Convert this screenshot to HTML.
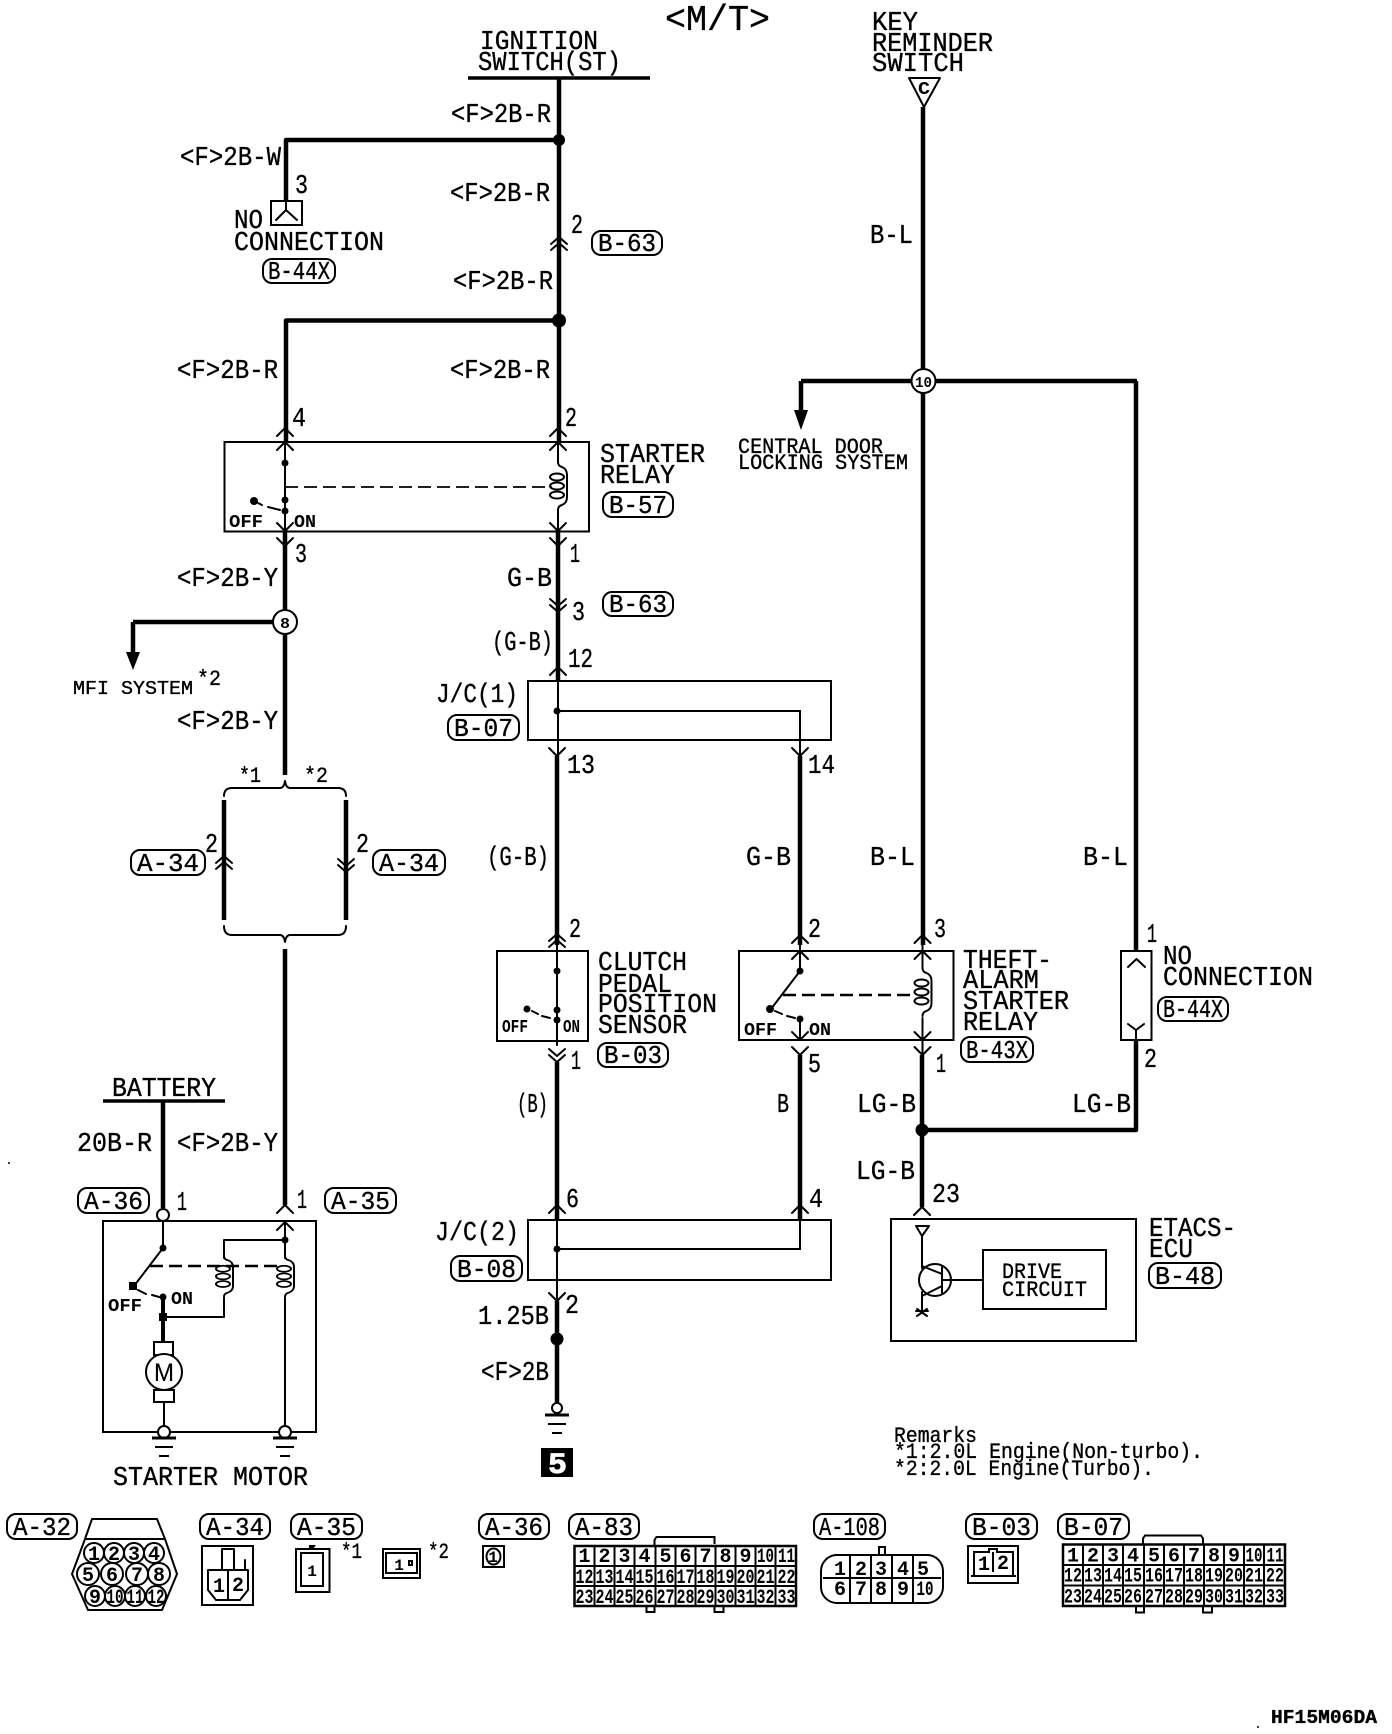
<!DOCTYPE html>
<html><head><meta charset="utf-8"><title>Starter circuit M/T</title>
<style>
html,body{margin:0;padding:0;background:#fff}
svg{display:block}
text{font-family:"Liberation Mono",monospace;fill:#000;stroke:#000;stroke-width:.35;font-size:27px}
.b{font-size:26px}.o{font-size:18px;font-weight:bold;stroke-width:0}.n{font-size:20px;font-weight:bold;text-anchor:middle;stroke-width:0}.r{font-size:22px}
.c{fill:none;stroke:#000;stroke-width:2}
.l{fill:none;stroke:#000;stroke-width:2;stroke-linecap:round;stroke-linejoin:round}
.w{fill:none;stroke:#000;stroke-width:4.5;stroke-linejoin:round}
.h{fill:none;stroke:#000;stroke-width:5.5;stroke-linejoin:round}
.d{fill:none;stroke:#000;stroke-width:1.7;stroke-dasharray:13 6}
.f{fill:#000}
.e{fill:#fff;stroke:#000;stroke-width:2}
</style></head><body>
<svg width="1392" height="1734" viewBox="0 0 1392 1734">
<defs>
<path id="u" class="l" d="M-8 8L0 0L8 8"/>
<path id="v" class="l" d="M-8 -8L0 0L8 -8"/>
<path id="uu" class="l" stroke-width="3" d="M-8 7L0 0L8 7M-8 13L0 6L8 13"/>
<path id="vv" class="l" d="M-8 -7L0 0L8 -7M-8 -13L0 -6L8 -13"/>
<g id="k"><path class="l" d="M0 0q0 4 4 5q5 2 5 8l0 22q0 6 -5 8q-4 1 -4 5"/><ellipse class="c" cx="-1" cy="15" rx="7" ry="3.5"/><ellipse class="c" cx="-1" cy="24" rx="7" ry="3.5"/><ellipse class="c" cx="-1" cy="33" rx="7" ry="3.5"/></g>
<g id="gnd"><path fill="none" stroke="#000" stroke-width="3" d="M-12 0H12"/><path fill="none" stroke="#000" stroke-width="2" d="M-9 9H9M-5 18H5"/></g>
</defs>

<!-- headers -->
<text x="665" y="30" font-size="36" style="font-size:36px" textLength="105" lengthAdjust="spacingAndGlyphs">&lt;M/T&gt;</text>
<text x="480" y="49" textLength="118" lengthAdjust="spacingAndGlyphs">IGNITION</text>
<text x="478" y="70" textLength="143" lengthAdjust="spacingAndGlyphs">SWITCH(ST)</text>
<path fill="none" stroke="#000" stroke-width="3.5" d="M468 78H650M103 1101H225"/>
<text x="872" y="30" textLength="46" lengthAdjust="spacingAndGlyphs">KEY</text>
<text x="872" y="51" textLength="121" lengthAdjust="spacingAndGlyphs">REMINDER</text>
<text x="872" y="71" textLength="92" lengthAdjust="spacingAndGlyphs">SWITCH</text>
<path class="l" d="M909 78H940L924 107Z"/>
<text x="918" y="94" class="o" textLength="12" lengthAdjust="spacingAndGlyphs">C</text>

<!-- main thick wires -->
<path class="w" d="M559 78V441M286 202V140H559M286 441V320.5H559M285 531V775M285 949V1205M558 531V680M557 756V945M557 1062V1219M557 1301V1403M800 756V945M800 1055V1219M923 107V945M922 1055V1207M801 381H1137M801 381V415M1136 381V950M1136 1040V1130H922M133 622H285M133 622V655M224 800V920M346 800V920M163 1101V1208"/>
<circle class="f" cx="559" cy="140" r="6"/>
<circle class="f" cx="559" cy="320.5" r="7"/>
<path class="f" d="M126 652H140L133 670ZM794 410H808L801 430Z"/>
<circle class="f" cx="922" cy="1130" r="6.5"/>
<circle class="f" cx="557" cy="1339" r="6.5"/>
<circle class="e" cx="285" cy="622" r="12"/>
<circle class="e" cx="923.5" cy="381" r="12"/>
<text x="280" y="628" class="o" style="font-size:15px" textLength="10" lengthAdjust="spacingAndGlyphs">8</text>
<text x="915" y="387" class="o" style="font-size:15px" textLength="17" lengthAdjust="spacingAndGlyphs">10</text>

<!-- wire labels -->
<text x="451" y="122" textLength="100" lengthAdjust="spacingAndGlyphs">&lt;F&gt;2B-R</text>
<text x="180" y="165" textLength="101" lengthAdjust="spacingAndGlyphs">&lt;F&gt;2B-W</text>
<text x="450" y="201" textLength="100" lengthAdjust="spacingAndGlyphs">&lt;F&gt;2B-R</text>
<text x="453" y="289" textLength="100" lengthAdjust="spacingAndGlyphs">&lt;F&gt;2B-R</text>
<text x="177" y="378" textLength="101" lengthAdjust="spacingAndGlyphs">&lt;F&gt;2B-R</text>
<text x="450" y="378" textLength="100" lengthAdjust="spacingAndGlyphs">&lt;F&gt;2B-R</text>
<text x="177" y="586" textLength="101" lengthAdjust="spacingAndGlyphs">&lt;F&gt;2B-Y</text>
<text x="177" y="729" textLength="101" lengthAdjust="spacingAndGlyphs">&lt;F&gt;2B-Y</text>
<text x="177" y="1151" textLength="101" lengthAdjust="spacingAndGlyphs">&lt;F&gt;2B-Y</text>
<text x="77" y="1151" textLength="75" lengthAdjust="spacingAndGlyphs">20B-R</text>
<text x="507" y="586" textLength="45" lengthAdjust="spacingAndGlyphs">G-B</text>
<text x="492" y="650" textLength="61" lengthAdjust="spacingAndGlyphs">(G-B)</text>
<text x="487" y="865" textLength="62" lengthAdjust="spacingAndGlyphs">(G-B)</text>
<text x="746" y="865" textLength="45" lengthAdjust="spacingAndGlyphs">G-B</text>
<text x="870" y="865" textLength="45" lengthAdjust="spacingAndGlyphs">B-L</text>
<text x="1083" y="865" textLength="45" lengthAdjust="spacingAndGlyphs">B-L</text>
<text x="870" y="243" textLength="43" lengthAdjust="spacingAndGlyphs">B-L</text>
<text x="517" y="1112" textLength="31" lengthAdjust="spacingAndGlyphs">(B)</text>
<text x="777" y="1112" textLength="12" lengthAdjust="spacingAndGlyphs">B</text>
<text x="857" y="1112" textLength="59" lengthAdjust="spacingAndGlyphs">LG-B</text>
<text x="1072" y="1112" textLength="59" lengthAdjust="spacingAndGlyphs">LG-B</text>
<text x="856" y="1179" textLength="59" lengthAdjust="spacingAndGlyphs">LG-B</text>
<text x="478" y="1324" textLength="71" lengthAdjust="spacingAndGlyphs">1.25B</text>
<text x="481" y="1380" textLength="68" lengthAdjust="spacingAndGlyphs">&lt;F&gt;2B</text>

<!-- pin numbers -->
<text x="295" y="193" textLength="13" lengthAdjust="spacingAndGlyphs">3</text>
<text x="571" y="233" textLength="12" lengthAdjust="spacingAndGlyphs">2</text>
<text x="292" y="426" textLength="14" lengthAdjust="spacingAndGlyphs">4</text>
<text x="565" y="426" textLength="12" lengthAdjust="spacingAndGlyphs">2</text>
<text x="295" y="562" textLength="12" lengthAdjust="spacingAndGlyphs">3</text>
<text x="570" y="562" textLength="10" lengthAdjust="spacingAndGlyphs">1</text>
<text x="572" y="620" textLength="13" lengthAdjust="spacingAndGlyphs">3</text>
<text x="568" y="667" textLength="25" lengthAdjust="spacingAndGlyphs">12</text>
<text x="567" y="773" textLength="28" lengthAdjust="spacingAndGlyphs">13</text>
<text x="808" y="773" textLength="27" lengthAdjust="spacingAndGlyphs">14</text>
<text x="569" y="937" textLength="12" lengthAdjust="spacingAndGlyphs">2</text>
<text x="808" y="937" textLength="13" lengthAdjust="spacingAndGlyphs">2</text>
<text x="934" y="937" textLength="12" lengthAdjust="spacingAndGlyphs">3</text>
<text x="1147" y="942" textLength="10" lengthAdjust="spacingAndGlyphs">1</text>
<text x="571" y="1069" textLength="10" lengthAdjust="spacingAndGlyphs">1</text>
<text x="808" y="1072" textLength="13" lengthAdjust="spacingAndGlyphs">5</text>
<text x="936" y="1072" textLength="10" lengthAdjust="spacingAndGlyphs">1</text>
<text x="1144" y="1067" textLength="13" lengthAdjust="spacingAndGlyphs">2</text>
<text x="932" y="1202" textLength="28" lengthAdjust="spacingAndGlyphs">23</text>
<text x="566" y="1207" textLength="13" lengthAdjust="spacingAndGlyphs">6</text>
<text x="809" y="1207" textLength="14" lengthAdjust="spacingAndGlyphs">4</text>
<text x="565" y="1313" textLength="14" lengthAdjust="spacingAndGlyphs">2</text>
<text x="177" y="1210" textLength="10" lengthAdjust="spacingAndGlyphs">1</text>
<text x="297" y="1208" textLength="10" lengthAdjust="spacingAndGlyphs">1</text>
<text x="205" y="852" textLength="13" lengthAdjust="spacingAndGlyphs">2</text>
<text x="356" y="852" textLength="13" lengthAdjust="spacingAndGlyphs">2</text>
<text x="239" y="782" class="r" textLength="22" lengthAdjust="spacingAndGlyphs">*1</text>
<text x="304" y="782" class="r" textLength="24" lengthAdjust="spacingAndGlyphs">*2</text>

<!-- no connection top -->
<rect class="c" x="271" y="201" width="31" height="24"/>
<path class="l" d="M276 220L286 210L297 220M286 201V210"/>
<text x="234" y="228" textLength="29" lengthAdjust="spacingAndGlyphs">NO</text>
<text x="234" y="250" textLength="150" lengthAdjust="spacingAndGlyphs">CONNECTION</text>

<!-- capsules -->
<rect class="c" x="263" y="259" width="72" height="24" rx="9"/><text class="b" x="268" y="279" textLength="62" lengthAdjust="spacingAndGlyphs">B-44X</text>
<rect class="c" x="592" y="231" width="70" height="24" rx="9"/><text class="b" x="598" y="251" textLength="58" lengthAdjust="spacingAndGlyphs">B-63</text>
<rect class="c" x="603" y="492" width="70" height="25" rx="9"/><text class="b" x="609" y="513" textLength="58" lengthAdjust="spacingAndGlyphs">B-57</text>
<rect class="c" x="603" y="592" width="70" height="24" rx="9"/><text class="b" x="609" y="612" textLength="58" lengthAdjust="spacingAndGlyphs">B-63</text>
<rect class="c" x="448" y="715" width="71" height="25" rx="9"/><text class="b" x="454" y="736" textLength="59" lengthAdjust="spacingAndGlyphs">B-07</text>
<rect class="c" x="131" y="850" width="74" height="25" rx="9"/><text class="b" x="137" y="871" textLength="62" lengthAdjust="spacingAndGlyphs">A-34</text>
<rect class="c" x="373" y="850" width="72" height="25" rx="9"/><text class="b" x="379" y="871" textLength="60" lengthAdjust="spacingAndGlyphs">A-34</text>
<rect class="c" x="598" y="1043" width="70" height="24" rx="9"/><text class="b" x="604" y="1063" textLength="58" lengthAdjust="spacingAndGlyphs">B-03</text>
<rect class="c" x="961" y="1037" width="72" height="25" rx="9"/><text class="b" x="966" y="1058" textLength="62" lengthAdjust="spacingAndGlyphs">B-43X</text>
<rect class="c" x="1158" y="997" width="70" height="24" rx="9"/><text class="b" x="1163" y="1017" textLength="60" lengthAdjust="spacingAndGlyphs">B-44X</text>
<rect class="c" x="78" y="1188" width="71" height="25" rx="9"/><text class="b" x="84" y="1209" textLength="59" lengthAdjust="spacingAndGlyphs">A-36</text>
<rect class="c" x="325" y="1188" width="71" height="25" rx="9"/><text class="b" x="331" y="1209" textLength="59" lengthAdjust="spacingAndGlyphs">A-35</text>
<rect class="c" x="451" y="1256" width="71" height="25" rx="9"/><text class="b" x="457" y="1277" textLength="59" lengthAdjust="spacingAndGlyphs">B-08</text>
<rect class="c" x="1149" y="1263" width="72" height="25" rx="9"/><text class="b" x="1155" y="1284" textLength="60" lengthAdjust="spacingAndGlyphs">B-48</text>

<!-- starter relay -->
<rect class="c" x="224.5" y="442" width="364.5" height="89.5"/>
<path class="l" d="M285 442V531M558 442V462M558 510V531"/>
<use href="#u" x="285" y="428"/><use href="#u" x="285" y="442"/><use href="#v" x="285" y="531"/><use href="#v" x="285" y="546"/>
<use href="#u" x="558" y="428"/><use href="#u" x="558" y="442"/><use href="#v" x="558" y="531"/><use href="#v" x="558" y="546"/>
<circle class="f" cx="285" cy="463" r="3.5"/><circle class="f" cx="285" cy="500" r="3.5"/><circle class="f" cx="285" cy="511" r="3.5"/><circle class="f" cx="254" cy="501" r="4"/>
<path class="l" d="M258 503L262 505M268 507L280 510"/>
<path class="d" d="M285 487H552"/>
<use href="#k" x="558" y="462"/>
<text class="o" x="229" y="527" textLength="34" lengthAdjust="spacingAndGlyphs">OFF</text>
<text class="o" x="294" y="527" textLength="22" lengthAdjust="spacingAndGlyphs">ON</text>
<text x="600" y="462" textLength="105" lengthAdjust="spacingAndGlyphs">STARTER</text>
<text x="600" y="483" textLength="75" lengthAdjust="spacingAndGlyphs">RELAY</text>

<!-- vv chevrons on harness -->
<use href="#uu" x="559" y="237"/>
<use href="#vv" x="558" y="612"/>
<use href="#uu" x="224" y="856"/>
<use href="#vv" x="346" y="872"/>

<!-- central door / mfi -->
<text class="r" x="738" y="453" textLength="145" lengthAdjust="spacingAndGlyphs">CENTRAL DOOR</text>
<text class="r" x="738" y="469" textLength="170" lengthAdjust="spacingAndGlyphs">LOCKING SYSTEM</text>
<text style="font-size:19px" x="73" y="694" textLength="120" lengthAdjust="spacingAndGlyphs">MFI SYSTEM</text>
<text class="r" x="197" y="685" textLength="24" lengthAdjust="spacingAndGlyphs">*2</text>

<!-- bracket -->
<path class="l" d="M224 796Q224 788 232 788H280Q284 788 285 781Q286 788 290 788H338Q346 788 346 796"/>
<path class="l" d="M224 926Q224 935 232 935H280Q284 935 285 942Q286 935 290 935H338Q346 935 346 926"/>

<!-- J/C1 -->
<rect class="c" x="528" y="681" width="303" height="59"/>
<path class="l" d="M558 667V756"/>
<path class="c" d="M557 711H800V756"/>
<circle class="f" cx="557" cy="711" r="3.5"/>
<use href="#u" x="558" y="667"/><use href="#v" x="557" y="756"/><use href="#v" x="800" y="756"/>
<text x="436" y="702" textLength="82" lengthAdjust="spacingAndGlyphs">J/C(1)</text>

<!-- clutch -->
<rect class="c" x="497" y="951" width="91" height="90" stroke-width="2.5"/>
<path class="l" d="M557 945V1045"/>
<use href="#uu" x="557" y="934"/><use href="#vv" x="557" y="1062"/>
<circle class="f" cx="557" cy="971" r="3.5"/><circle class="f" cx="557" cy="1010" r="3.5"/><circle class="f" cx="557" cy="1020" r="3.5"/><circle class="f" cx="527" cy="1009" r="3.5"/>
<path class="l" d="M532 1011L538 1014M542 1016L550 1018"/>
<text class="o" x="502" y="1032" textLength="26" lengthAdjust="spacingAndGlyphs">OFF</text>
<text class="o" x="563" y="1032" textLength="17" lengthAdjust="spacingAndGlyphs">ON</text>
<text x="598" y="970" textLength="89" lengthAdjust="spacingAndGlyphs">CLUTCH</text>
<text x="598" y="992" textLength="74" lengthAdjust="spacingAndGlyphs">PEDAL</text>
<text x="598" y="1012" textLength="119" lengthAdjust="spacingAndGlyphs">POSITION</text>
<text x="598" y="1033" textLength="89" lengthAdjust="spacingAndGlyphs">SENSOR</text>

<!-- theft relay -->
<rect class="c" x="739" y="951" width="214.5" height="89"/>
<path class="l" d="M800 945V971M771 1009L800 971M800 1019V1040M922.5 945V968M922.5 1018V1055"/>
<use href="#u" x="800" y="935"/><use href="#u" x="800" y="951"/><use href="#v" x="800" y="1040"/><use href="#v" x="800" y="1055"/>
<use href="#u" x="922.5" y="935"/><use href="#u" x="922.5" y="951"/><use href="#v" x="922.5" y="1040"/><use href="#v" x="922.5" y="1055"/>
<circle class="f" cx="800" cy="971" r="3.5"/><circle class="f" cx="770" cy="1009" r="4"/><circle class="f" cx="800" cy="1019" r="3.5"/>
<path class="l" d="M775 1011L782 1014M787 1016L795 1018"/>
<path class="d" d="M783 995H916" style="stroke-width:2.5"/>
<use href="#k" x="922.5" y="968"/>
<text class="o" x="744" y="1035" textLength="33" lengthAdjust="spacingAndGlyphs">OFF</text>
<text class="o" x="809" y="1035" textLength="22" lengthAdjust="spacingAndGlyphs">ON</text>
<text x="963" y="968" textLength="89" lengthAdjust="spacingAndGlyphs">THEFT-</text>
<text x="963" y="988" textLength="76" lengthAdjust="spacingAndGlyphs">ALARM</text>
<text x="963" y="1009" textLength="106" lengthAdjust="spacingAndGlyphs">STARTER</text>
<text x="963" y="1030" textLength="75" lengthAdjust="spacingAndGlyphs">RELAY</text>

<!-- no connection right -->
<rect class="c" x="1121" y="951" width="30.5" height="89"/>
<path class="l" d="M1128 967L1136.5 959L1145 967M1128 1024L1136 1030L1144 1024M1136 1030V1040"/>
<text x="1163" y="964" textLength="29" lengthAdjust="spacingAndGlyphs">NO</text>
<text x="1163" y="985" textLength="150" lengthAdjust="spacingAndGlyphs">CONNECTION</text>

<!-- J/C2 -->
<rect class="c" x="528" y="1220" width="303" height="60"/>
<path class="l" d="M557 1205V1301"/>
<path class="c" d="M557 1249H800V1205"/>
<circle class="f" cx="557" cy="1249" r="3.5"/>
<use href="#u" x="557" y="1205"/><use href="#u" x="800" y="1205"/><use href="#v" x="557" y="1301"/>
<text x="435" y="1240" textLength="84" lengthAdjust="spacingAndGlyphs">J/C(2)</text>
<circle class="e" cx="557" cy="1408" r="5"/>
<use href="#gnd" x="557" y="1415"/>
<rect class="f" x="541" y="1448" width="32" height="29"/>
<text x="548" y="1473" style="font-size:30px;fill:#fff;stroke:#fff;stroke-width:.8;font-weight:bold" textLength="19" lengthAdjust="spacingAndGlyphs">5</text>

<!-- ETACS -->
<use href="#u" x="922" y="1207"/>
<rect class="c" x="891" y="1219" width="245" height="122"/>
<path class="l" d="M916 1226H929L922 1236ZM922 1236V1268M922 1292V1312M922 1266L942 1274M922 1296L942 1286M942 1266V1294M942 1280H983"/>
<circle class="c" cx="935" cy="1280" r="16"/>
<path class="l" d="M916 1311H928M917 1316L927 1309M927 1316L917 1309"/>
<rect class="c" x="983" y="1250" width="123" height="59"/>
<text class="r" x="1002" y="1278" textLength="60" lengthAdjust="spacingAndGlyphs">DRIVE</text>
<text class="r" x="1002" y="1296" textLength="85" lengthAdjust="spacingAndGlyphs">CIRCUIT</text>
<text x="1149" y="1236" textLength="87" lengthAdjust="spacingAndGlyphs">ETACS-</text>
<text x="1149" y="1257" textLength="44" lengthAdjust="spacingAndGlyphs">ECU</text>

<!-- battery / starter motor -->
<text x="112" y="1096" textLength="104" lengthAdjust="spacingAndGlyphs">BATTERY</text>
<circle class="e" cx="163" cy="1215" r="6"/>
<rect class="c" x="103" y="1221" width="213" height="211"/>
<use href="#u" x="285" y="1205"/><use href="#u" x="285" y="1222"/>
<path class="l" d="M163 1221V1248L134 1286M285 1222V1258M285 1298V1428M224 1258V1240H285M224 1298V1317H163M224 1258h0M164 1402V1428"/>
<path fill="none" stroke="#000" stroke-width="4" d="M163 1297V1342"/>
<circle class="f" cx="163" cy="1248" r="3.5"/><rect class="f" x="129" y="1282" width="8" height="8"/><circle class="f" cx="163" cy="1297" r="3.5"/><rect class="f" x="159" y="1313" width="8" height="8"/><circle class="f" cx="285" cy="1240" r="3.5"/>
<path class="l" d="M138 1290L146 1294M152 1295L159 1297"/>
<path class="d" d="M150 1266H278" style="stroke-width:2.5"/>
<use href="#k" transform="translate(224,1256) scale(1,.85)"/>
<use href="#k" transform="translate(285,1256) scale(1,.85)"/>
<text class="o" x="108" y="1311" textLength="34" lengthAdjust="spacingAndGlyphs">OFF</text>
<text class="o" x="171" y="1304" textLength="22" lengthAdjust="spacingAndGlyphs">ON</text>
<rect class="c" x="154" y="1342" width="19" height="13"/><rect class="c" x="154" y="1390" width="20" height="12"/>
<circle class="e" cx="164" cy="1372" r="18"/>
<text x="154" y="1381" style="stroke-width:.1;font-family:'Liberation Sans',sans-serif;font-size:25px" textLength="20" lengthAdjust="spacingAndGlyphs">M</text>
<circle class="e" cx="164" cy="1432" r="6"/><circle class="e" cx="285" cy="1432" r="6"/>
<use href="#gnd" x="164" y="1438"/><use href="#gnd" x="285" y="1438"/>
<text x="113" y="1485" textLength="195" lengthAdjust="spacingAndGlyphs">STARTER MOTOR</text>

<!-- remarks -->
<text class="r" x="894" y="1442" textLength="83" lengthAdjust="spacingAndGlyphs">Remarks</text>
<text class="r" x="894" y="1458" textLength="309" lengthAdjust="spacingAndGlyphs">*1:2.0L Engine(Non-turbo).</text>
<text class="r" x="894" y="1475" textLength="260" lengthAdjust="spacingAndGlyphs">*2:2.0L Engine(Turbo).</text>

<!-- bottom capsules -->
<rect class="c" x="7" y="1514" width="70" height="25" rx="9"/><text class="b" x="13" y="1535" textLength="58" lengthAdjust="spacingAndGlyphs">A-32</text>
<rect class="c" x="200" y="1514" width="70" height="25" rx="9"/><text class="b" x="206" y="1535" textLength="58" lengthAdjust="spacingAndGlyphs">A-34</text>
<rect class="c" x="291" y="1514" width="71" height="25" rx="9"/><text class="b" x="297" y="1535" textLength="59" lengthAdjust="spacingAndGlyphs">A-35</text>
<rect class="c" x="479" y="1514" width="70" height="25" rx="9"/><text class="b" x="485" y="1535" textLength="58" lengthAdjust="spacingAndGlyphs">A-36</text>
<rect class="c" x="569" y="1514" width="70" height="25" rx="9"/><text class="b" x="575" y="1535" textLength="58" lengthAdjust="spacingAndGlyphs">A-83</text>
<rect class="c" x="814" y="1514" width="71" height="25" rx="9"/><text class="b" x="819" y="1535" textLength="61" lengthAdjust="spacingAndGlyphs">A-108</text>
<rect class="c" x="966" y="1514" width="71" height="25" rx="9"/><text class="b" x="972" y="1535" textLength="59" lengthAdjust="spacingAndGlyphs">B-03</text>
<rect class="c" x="1058" y="1514" width="71" height="25" rx="9"/><text class="b" x="1064" y="1535" textLength="59" lengthAdjust="spacingAndGlyphs">B-07</text>

<!-- A-32 -->
<path class="l" d="M85 1539L92 1519H157L165 1539"/>
<path class="l" d="M85 1539H165L177 1574L162 1610H88L72 1574Z" stroke-width="2.5"/>
<g class="l">
<circle cx="94" cy="1553" r="10"/><circle cx="114" cy="1553" r="10"/><circle cx="134" cy="1553" r="10"/><circle cx="154" cy="1553" r="10"/>
<circle cx="88" cy="1574" r="11"/><circle cx="112" cy="1574" r="11"/><circle cx="137" cy="1574" r="11"/><circle cx="159" cy="1574" r="11"/>
<circle cx="95" cy="1596" r="10"/><circle cx="115" cy="1596" r="10"/><circle cx="135" cy="1596" r="10"/><circle cx="156" cy="1596" r="10"/>
</g>
<g class="n">
<text class="n" x="94" y="1560">1</text><text class="n" x="114" y="1560">2</text><text class="n" x="134" y="1560">3</text><text class="n" x="154" y="1560">4</text>
<text class="n" x="88" y="1581">5</text><text class="n" x="112" y="1581">6</text><text class="n" x="137" y="1581">7</text><text class="n" x="159" y="1581">8</text>
<text class="n" x="95" y="1603">9</text><text class="n" x="115" y="1603" textLength="17" lengthAdjust="spacingAndGlyphs">10</text><text class="n" x="135" y="1603" textLength="17" lengthAdjust="spacingAndGlyphs">11</text><text class="n" x="156" y="1603" textLength="17" lengthAdjust="spacingAndGlyphs">12</text>
</g>

<!-- A-34 -->
<rect class="c" x="202" y="1546" width="51" height="59"/>
<path class="l" d="M222 1570V1549H234V1570M208 1570H248V1590L240 1600H216L208 1590ZM228 1570V1600M245 1570V1560"/>
<text class="n" x="219" y="1592">1</text><text class="n" x="238" y="1591">2</text>
<!-- A-35 -->
<rect class="c" x="296" y="1549" width="33.5" height="43"/><rect class="c" x="301" y="1553" width="22" height="33"/>
<path class="f" d="M309 1545H316L313 1549H309Z"/><path class="l" d="M301 1586h22" stroke-width="3"/>
<text class="n" style="font-size:16px" x="312" y="1576">1</text>
<text class="r" x="341" y="1558" textLength="21" lengthAdjust="spacingAndGlyphs">*1</text>
<rect class="c" x="383" y="1549" width="37" height="29"/><rect class="c" x="386" y="1553" width="31" height="20"/>
<text class="n" style="font-size:16px" x="399" y="1570">1</text><rect class="c" x="409" y="1561" width="3" height="4"/>
<text class="r" x="428" y="1558" textLength="21" lengthAdjust="spacingAndGlyphs">*2</text>
<!-- A-36 -->
<rect class="c" x="483" y="1546" width="21" height="21"/><ellipse class="c" cx="493.5" cy="1556.5" rx="7" ry="8"/>
<text class="n" style="font-size:16px" x="493" y="1562">1</text>

<!-- A-83 grid -->
<g transform="translate(574.5,1546)">
<rect width="221.5" height="60" fill="none" stroke="#000" stroke-width="2.5"/>
<path class="c" d="M0 20H221.5M0 40H221.5M20 0V60M40 0V60M60 0V60M81 0V60M101 0V60M121 0V60M141 0V60M161 0V60M181 0V60M201 0V60"/>
<path class="c" d="M80 0V-6L82 -9H140V-2"/><path class="c" d="M72 60V66H80V60M140 60V66H149V60"/>
<text class="n" x="10" y="16">1</text><text class="n" x="30" y="16">2</text><text class="n" x="50" y="16">3</text><text class="n" x="70" y="16">4</text><text class="n" x="91" y="16">5</text><text class="n" x="111" y="16">6</text><text class="n" x="131" y="16">7</text><text class="n" x="151" y="16">8</text><text class="n" x="171" y="16">9</text><text class="n" x="191" y="16" textLength="17" lengthAdjust="spacingAndGlyphs">10</text><text class="n" x="212" y="16" textLength="17" lengthAdjust="spacingAndGlyphs">11</text>
<text class="n" x="10" y="37" textLength="18" lengthAdjust="spacingAndGlyphs">12</text><text class="n" x="30" y="37" textLength="18" lengthAdjust="spacingAndGlyphs">13</text><text class="n" x="50" y="37" textLength="18" lengthAdjust="spacingAndGlyphs">14</text><text class="n" x="70" y="37" textLength="18" lengthAdjust="spacingAndGlyphs">15</text><text class="n" x="91" y="37" textLength="18" lengthAdjust="spacingAndGlyphs">16</text><text class="n" x="111" y="37" textLength="18" lengthAdjust="spacingAndGlyphs">17</text><text class="n" x="131" y="37" textLength="18" lengthAdjust="spacingAndGlyphs">18</text><text class="n" x="151" y="37" textLength="18" lengthAdjust="spacingAndGlyphs">19</text><text class="n" x="171" y="37" textLength="18" lengthAdjust="spacingAndGlyphs">20</text><text class="n" x="191" y="37" textLength="18" lengthAdjust="spacingAndGlyphs">21</text><text class="n" x="212" y="37" textLength="18" lengthAdjust="spacingAndGlyphs">22</text>
<text class="n" x="10" y="57" textLength="18" lengthAdjust="spacingAndGlyphs">23</text><text class="n" x="30" y="57" textLength="18" lengthAdjust="spacingAndGlyphs">24</text><text class="n" x="50" y="57" textLength="18" lengthAdjust="spacingAndGlyphs">25</text><text class="n" x="70" y="57" textLength="18" lengthAdjust="spacingAndGlyphs">26</text><text class="n" x="91" y="57" textLength="18" lengthAdjust="spacingAndGlyphs">27</text><text class="n" x="111" y="57" textLength="18" lengthAdjust="spacingAndGlyphs">28</text><text class="n" x="131" y="57" textLength="18" lengthAdjust="spacingAndGlyphs">29</text><text class="n" x="151" y="57" textLength="18" lengthAdjust="spacingAndGlyphs">30</text><text class="n" x="171" y="57" textLength="18" lengthAdjust="spacingAndGlyphs">31</text><text class="n" x="191" y="57" textLength="18" lengthAdjust="spacingAndGlyphs">32</text><text class="n" x="212" y="57" textLength="18" lengthAdjust="spacingAndGlyphs">33</text>
</g>

<!-- A-108 -->
<rect class="c" x="821" y="1555" width="122" height="48" rx="16" stroke-width="2.5"/>
<rect class="c" x="879" y="1547" width="6" height="8"/>
<path class="c" d="M823 1578H941M850 1556V1602M871 1556V1602M892 1556V1602M913 1556V1602"/>
<text class="n" x="840" y="1575">1</text><text class="n" x="861" y="1575">2</text><text class="n" x="881" y="1575">3</text><text class="n" x="903" y="1575">4</text><text class="n" x="923" y="1575">5</text>
<text class="n" x="840" y="1595">6</text><text class="n" x="861" y="1595">7</text><text class="n" x="881" y="1595">8</text><text class="n" x="903" y="1595">9</text><text class="n" x="925" y="1595" textLength="17" lengthAdjust="spacingAndGlyphs">10</text>

<!-- B-03 -->
<rect class="c" x="968" y="1546" width="50" height="37" stroke-width="2.5"/>
<path class="c" d="M974 1576V1552H989V1549H997V1552H1013V1576M971 1576H1016M993 1552V1572"/>
<text class="n" x="984" y="1570">1</text><text class="n" x="1003" y="1569">2</text>

<!-- B-07 grid -->
<g transform="translate(1063,1544.5)">
<rect width="222" height="61.5" fill="none" stroke="#000" stroke-width="2.5"/>
<path class="c" d="M0 20.5H222M0 41H222M20 0V61M40 0V61M60 0V61M81 0V61M101 0V61M121 0V61M141 0V61M161 0V61M181 0V61M201 0V61"/>
<path class="c" d="M80 0V-6L82 -9H138L140 -6V0"/><path class="c" d="M73 61V68H81V61M140 61V68H149V61"/>
<text class="n" x="10" y="17">1</text><text class="n" x="30" y="17">2</text><text class="n" x="50" y="17">3</text><text class="n" x="70" y="17">4</text><text class="n" x="91" y="17">5</text><text class="n" x="111" y="17">6</text><text class="n" x="131" y="17">7</text><text class="n" x="151" y="17">8</text><text class="n" x="171" y="17">9</text><text class="n" x="191" y="17" textLength="17" lengthAdjust="spacingAndGlyphs">10</text><text class="n" x="212" y="17" textLength="17" lengthAdjust="spacingAndGlyphs">11</text>
<text class="n" x="10" y="37" textLength="18" lengthAdjust="spacingAndGlyphs">12</text><text class="n" x="30" y="37" textLength="18" lengthAdjust="spacingAndGlyphs">13</text><text class="n" x="50" y="37" textLength="18" lengthAdjust="spacingAndGlyphs">14</text><text class="n" x="70" y="37" textLength="18" lengthAdjust="spacingAndGlyphs">15</text><text class="n" x="91" y="37" textLength="18" lengthAdjust="spacingAndGlyphs">16</text><text class="n" x="111" y="37" textLength="18" lengthAdjust="spacingAndGlyphs">17</text><text class="n" x="131" y="37" textLength="18" lengthAdjust="spacingAndGlyphs">18</text><text class="n" x="151" y="37" textLength="18" lengthAdjust="spacingAndGlyphs">19</text><text class="n" x="171" y="37" textLength="18" lengthAdjust="spacingAndGlyphs">20</text><text class="n" x="191" y="37" textLength="18" lengthAdjust="spacingAndGlyphs">21</text><text class="n" x="212" y="37" textLength="18" lengthAdjust="spacingAndGlyphs">22</text>
<text class="n" x="10" y="58" textLength="18" lengthAdjust="spacingAndGlyphs">23</text><text class="n" x="30" y="58" textLength="18" lengthAdjust="spacingAndGlyphs">24</text><text class="n" x="50" y="58" textLength="18" lengthAdjust="spacingAndGlyphs">25</text><text class="n" x="70" y="58" textLength="18" lengthAdjust="spacingAndGlyphs">26</text><text class="n" x="91" y="58" textLength="18" lengthAdjust="spacingAndGlyphs">27</text><text class="n" x="111" y="58" textLength="18" lengthAdjust="spacingAndGlyphs">28</text><text class="n" x="131" y="58" textLength="18" lengthAdjust="spacingAndGlyphs">29</text><text class="n" x="151" y="58" textLength="18" lengthAdjust="spacingAndGlyphs">30</text><text class="n" x="171" y="58" textLength="18" lengthAdjust="spacingAndGlyphs">31</text><text class="n" x="191" y="58" textLength="18" lengthAdjust="spacingAndGlyphs">32</text><text class="n" x="212" y="58" textLength="18" lengthAdjust="spacingAndGlyphs">33</text>
</g>

<!-- code -->
<text x="1271" y="1723" style="font-size:19px;font-weight:bold" textLength="106" lengthAdjust="spacingAndGlyphs">HF15M06DA</text>
<circle class="f" cx="1258" cy="1727" r="1"/>
<circle class="f" cx="9" cy="1163" r="1"/>
</svg>
</body></html>
